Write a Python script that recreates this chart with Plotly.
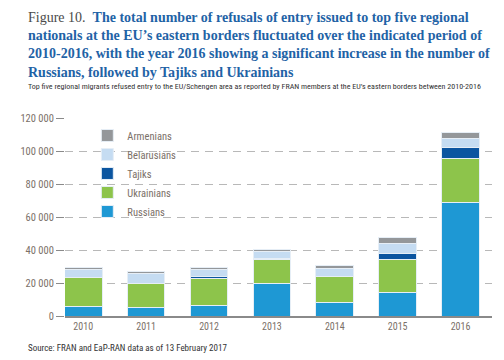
import plotly.graph_objects as go

years = ["2010", "2011", "2012", "2013", "2014", "2015", "2016"]
russians = [5700, 5100, 6300, 19700, 8300, 14000, 69000]
ukrainians = [17500, 14500, 16700, 14700, 15500, 20300, 26300]
tajiks = [200, 100, 800, 300, 200, 3800, 7000]
belarusians = [4900, 6200, 4300, 4200, 4800, 5700, 5100]
armenians = [1000, 800, 1200, 1400, 1600, 3600, 3900]

series = [
    ("Russians", russians, "#1e98d4"),
    ("Ukrainians", ukrainians, "#8dc44b"),
    ("Tajiks", tajiks, "#0b55a0"),
    ("Belarusians", belarusians, "#c5dcf2"),
    ("Armenians", armenians, "#94979a"),
]

tick_vals = [0, 20000, 40000, 60000, 80000, 100000, 120000]
tick_text = ["0", "20 000", "40 000", "60 000", "80 000", "100 000", "120 000"]

NARROW = "Liberation Sans Narrow, Arial Narrow, Roboto Condensed, Liberation Sans, sans-serif"
LABEL_COLOR = "#7b7068"

# page body has an 8px margin, so figure coords = screen - 8
L, R, T, B = 44, 20, 110, 52
PW = 504 - L - R
PH = 360 - T - B

fig = go.Figure()
for name, vals, col in series:
    fig.add_trace(go.Bar(
        x=years, y=vals, name=name,
        marker=dict(color=col, line=dict(color="#e6eef6", width=1)),
    ))

fig.update_layout(
    width=504, height=360,
    barmode="stack", bargap=0.4,
    paper_bgcolor="white", plot_bgcolor="white",
    margin=dict(l=L, r=R, t=T, b=B),
    showlegend=True,
    legend=dict(
        x=(67 - L) / PW, y=0.985, xanchor="left", yanchor="top",
        traceorder="reversed",
        font=dict(family=NARROW, size=10.5, color=LABEL_COLOR),
        itemwidth=30, tracegroupgap=0,
        bgcolor="rgba(0,0,0,0)",
    ),
    xaxis=dict(
        type="category", range=[-0.29, 6.5],
        showgrid=False, showline=True, linecolor="#8a8a8a", linewidth=1.5,
        ticks="", tickfont=dict(family=NARROW, size=10, color=LABEL_COLOR),
        fixedrange=True,
    ),
    yaxis=dict(
        range=[0, 120000], tickvals=tick_vals, ticktext=tick_text,
        showgrid=True, gridcolor="#b8b8b8", gridwidth=1, griddash="8px,6px",
        ticks="outside", ticklen=8, tickcolor="#8a8a8a", tickwidth=1,
        tickfont=dict(family=NARROW, size=10.5, color=LABEL_COLOR),
        showline=False, zeroline=False,
    ),
)

title = ("<span style='color:#4a4a4a;font-weight:normal'>Figure 10.</span>  "
         "<b>The total number of refusals of entry issued to top five regional<br>"
         "nationals at the EU’s eastern borders fluctuated over the indicated period of<br>"
         "2010-2016, with the year 2016 showing a significant increase in the number of<br>"
         "Russians, followed by Tajiks and Ukrainians</b>")
fig.add_annotation(
    text=title, xref="paper", yref="paper", x=-(L - 4) / PW, y=1 + (T - 0) / PH,
    xanchor="left", yanchor="top", align="left", showarrow=False,
    font=dict(family="Liberation Serif, serif", size=14, color="#1f63a6"),
)
fig.add_annotation(
    text="Top five regional migrants refused entry to the EU/Schengen area as reported by FRAN members at the EU’s eastern borders between 2010-2016",
    xref="paper", yref="paper", x=-(L - 4) / PW, y=1 + (T - 72) / PH,
    xanchor="left", yanchor="top", align="left", showarrow=False,
    font=dict(family=NARROW, size=8, color="#333333"),
)
fig.add_annotation(
    text="Source: FRAN and EaP-RAN data as of 13 February 2017",
    xref="paper", yref="paper", x=-(L - 4) / PW, y=-(333 - (T + PH)) / PH,
    xanchor="left", yanchor="top", align="left", showarrow=False,
    font=dict(family=NARROW, size=9, color="#333333"),
)

fig.write_html("out.html")
